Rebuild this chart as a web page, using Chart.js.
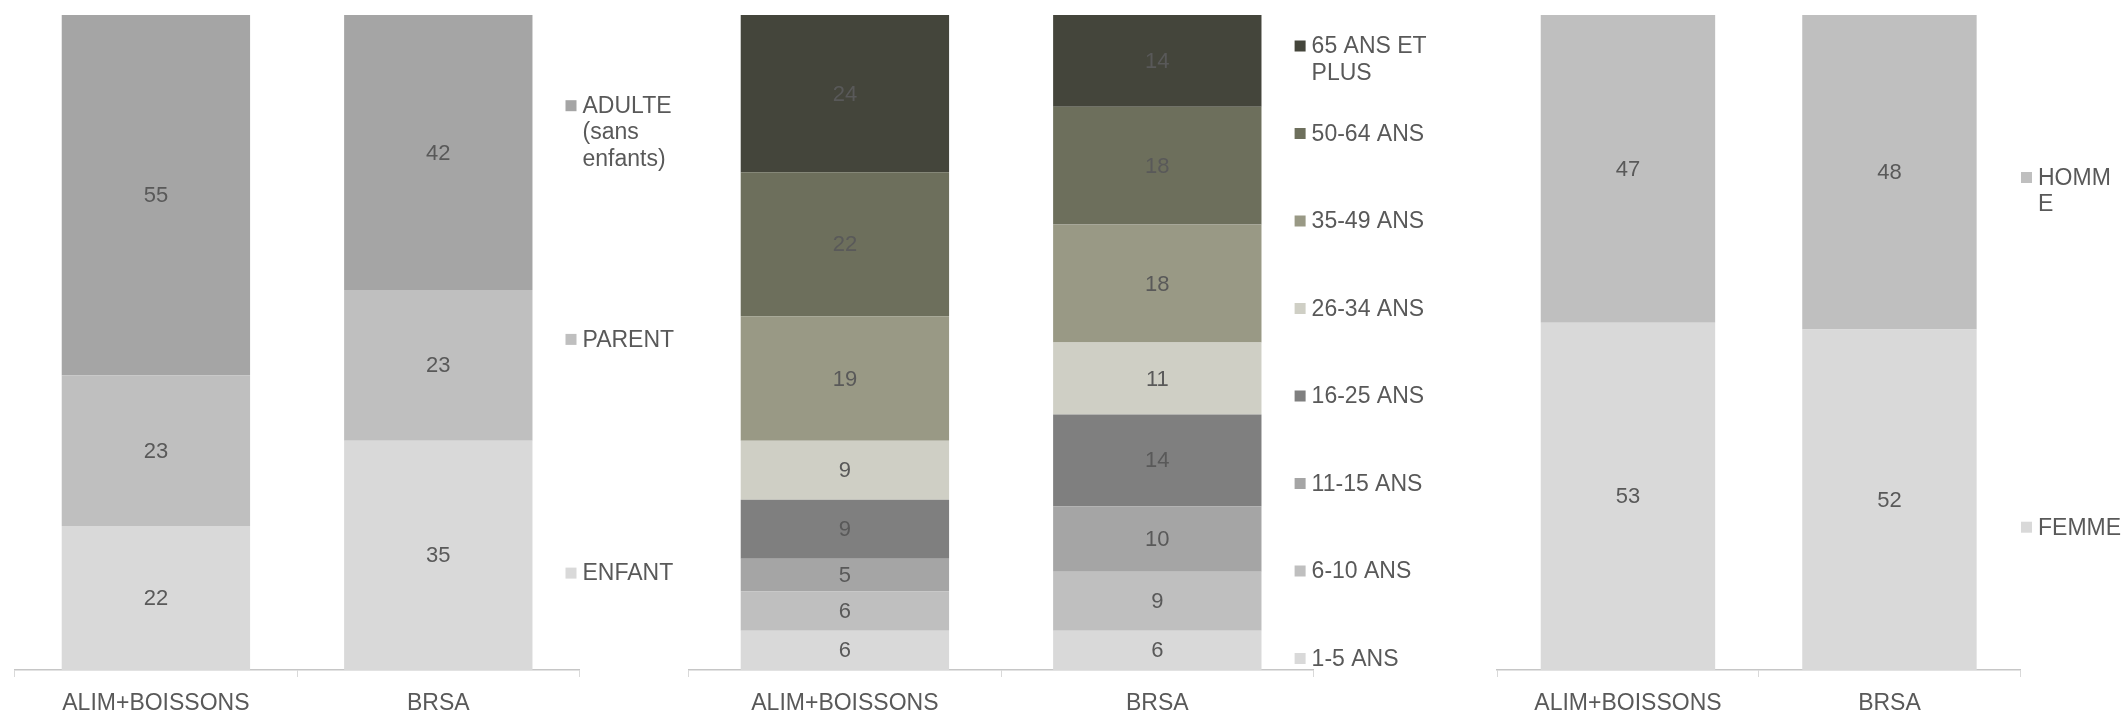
<!DOCTYPE html>
<html>
<head>
<meta charset="utf-8">
<script src="https://cdn.jsdelivr.net/npm/chart.js@4.4.1/dist/chart.umd.min.js"></script>
<style>
html,body{margin:0;padding:0;background:#fff;}
body{width:2125px;height:712px;position:relative;overflow:hidden;}
canvas{position:absolute;top:0;}
</style>
</head>
<body>
<canvas id="c1" width="690" height="712" style="left:0"></canvas>
<canvas id="c2" width="760" height="712" style="left:680px"></canvas>
<canvas id="c3" width="685" height="712" style="left:1440px"></canvas>
<script>
var categories = ['ALIM+BOISSONS', 'BRSA'];

// type de foyer
var enfant = [22, 35];
var parent = [23, 23];
var adulte = [55, 42];

// tranches d'age
var age1_5 = [6, 6];
var age6_10 = [6, 9];
var age11_15 = [5, 10];
var age16_25 = [9, 14];
var age26_34 = [9, 11];
var age35_49 = [19, 18];
var age50_64 = [22, 18];
var age65plus = [24, 14];

// sexe
var femme = [53, 52];
var homme = [47, 48];

var FONT = '"Liberation Sans", Arial, sans-serif';
var TXT = '#595959';
Chart.defaults.font.family = FONT;

function serie(lines, values, color) {
  return {
    label: lines.join(' '),
    lines: lines,
    data: values,
    backgroundColor: color,
    borderWidth: 0,
    barPercentage: 0.667,
    categoryPercentage: 1
  };
}

var valueLabels = {
  id: 'valueLabels',
  afterDatasetsDraw: function(chart) {
    var ctx = chart.ctx;
    ctx.save();
    ctx.font = '22px ' + FONT;
    ctx.fillStyle = TXT;
    ctx.textAlign = 'center';
    ctx.textBaseline = 'middle';
    chart.data.datasets.forEach(function(ds, i) {
      chart.getDatasetMeta(i).data.forEach(function(bar, j) {
        var c = bar.getCenterPoint();
        ctx.fillText(ds.data[j], c.x, c.y + 1);
      });
    });
    ctx.restore();
  }
};

// legende a droite, entrees reparties comme dans Excel
var sideLegend = {
  id: 'sideLegend',
  afterDraw: function(chart, args, opts) {
    var ctx = chart.ctx;
    var ds = chart.data.datasets;
    ctx.save();
    ctx.font = '23px ' + FONT;
    ctx.textAlign = 'left';
    ctx.textBaseline = 'middle';
    for (var k = 0; k < ds.length; k++) {
      var d = ds[ds.length - 1 - k];
      var y = opts.top + k * opts.step;
      ctx.fillStyle = d.backgroundColor;
      ctx.fillRect(opts.x, y - 5.5, 11, 11);
      ctx.fillStyle = TXT;
      for (var l = 0; l < d.lines.length; l++) {
        ctx.fillText(d.lines[l], opts.x + 17, y + 1 + l * 26.3);
      }
    }
    ctx.restore();
  }
};

function makeChart(id, datasets, pad, legend) {
  return new Chart(document.getElementById(id), {
    type: 'bar',
    data: { labels: categories, datasets: datasets },
    plugins: [valueLabels, sideLegend],
    options: {
      responsive: false,
      animation: false,
      layout: { padding: { top: 15, left: pad.left, right: pad.right, bottom: 0 } },
      plugins: {
        legend: { display: false },
        tooltip: { enabled: false },
        sideLegend: legend
      },
      scales: {
        x: {
          stacked: true,
          grid: { display: true, drawOnChartArea: false, drawTicks: true, tickLength: 7, color: '#d9d9d9', offset: true },
          border: { display: true, color: '#c6c6c6', width: 1.5 },
          ticks: { color: TXT, font: { size: 23 }, padding: 13, maxRotation: 0, autoSkip: false },
          afterFit: function(s) { s.height = 42; }
        },
        y: { stacked: true, display: false, min: 0, max: 100 }
      }
    }
  });
}

makeChart('c1', [
  serie(['ENFANT'], enfant, '#d9d9d9'),
  serie(['PARENT'], parent, '#bfbfbf'),
  serie(['ADULTE', '(sans', 'enfants)'], adulte, '#a5a5a5')
], { left: 14.7, right: 690 - 579.5 }, { x: 565.5, top: 105.7, step: 233.7 });

makeChart('c2', [
  serie(['1-5 ANS'], age1_5, '#d9d9d9'),
  serie(['6-10 ANS'], age6_10, '#bfbfbf'),
  serie(['11-15 ANS'], age11_15, '#a5a5a5'),
  serie(['16-25 ANS'], age16_25, '#7f7f7f'),
  serie(['26-34 ANS'], age26_34, '#cfcfc5'),
  serie(['35-49 ANS'], age35_49, '#999985'),
  serie(['50-64 ANS'], age50_64, '#6d6f5c'),
  serie(['65 ANS ET', 'PLUS'], age65plus, '#44453b')
], { left: 8.7, right: 760 - 633.5 }, { x: 614.6, top: 46, step: 87.5 });

makeChart('c3', [
  serie(['FEMME'], femme, '#d9d9d9'),
  serie(['HOMM', 'E'], homme, '#bfbfbf')
], { left: 57.2, right: 685 - 580.2 }, { x: 581, top: 177.5, step: 349.7 });
</script>
</body>
</html>
